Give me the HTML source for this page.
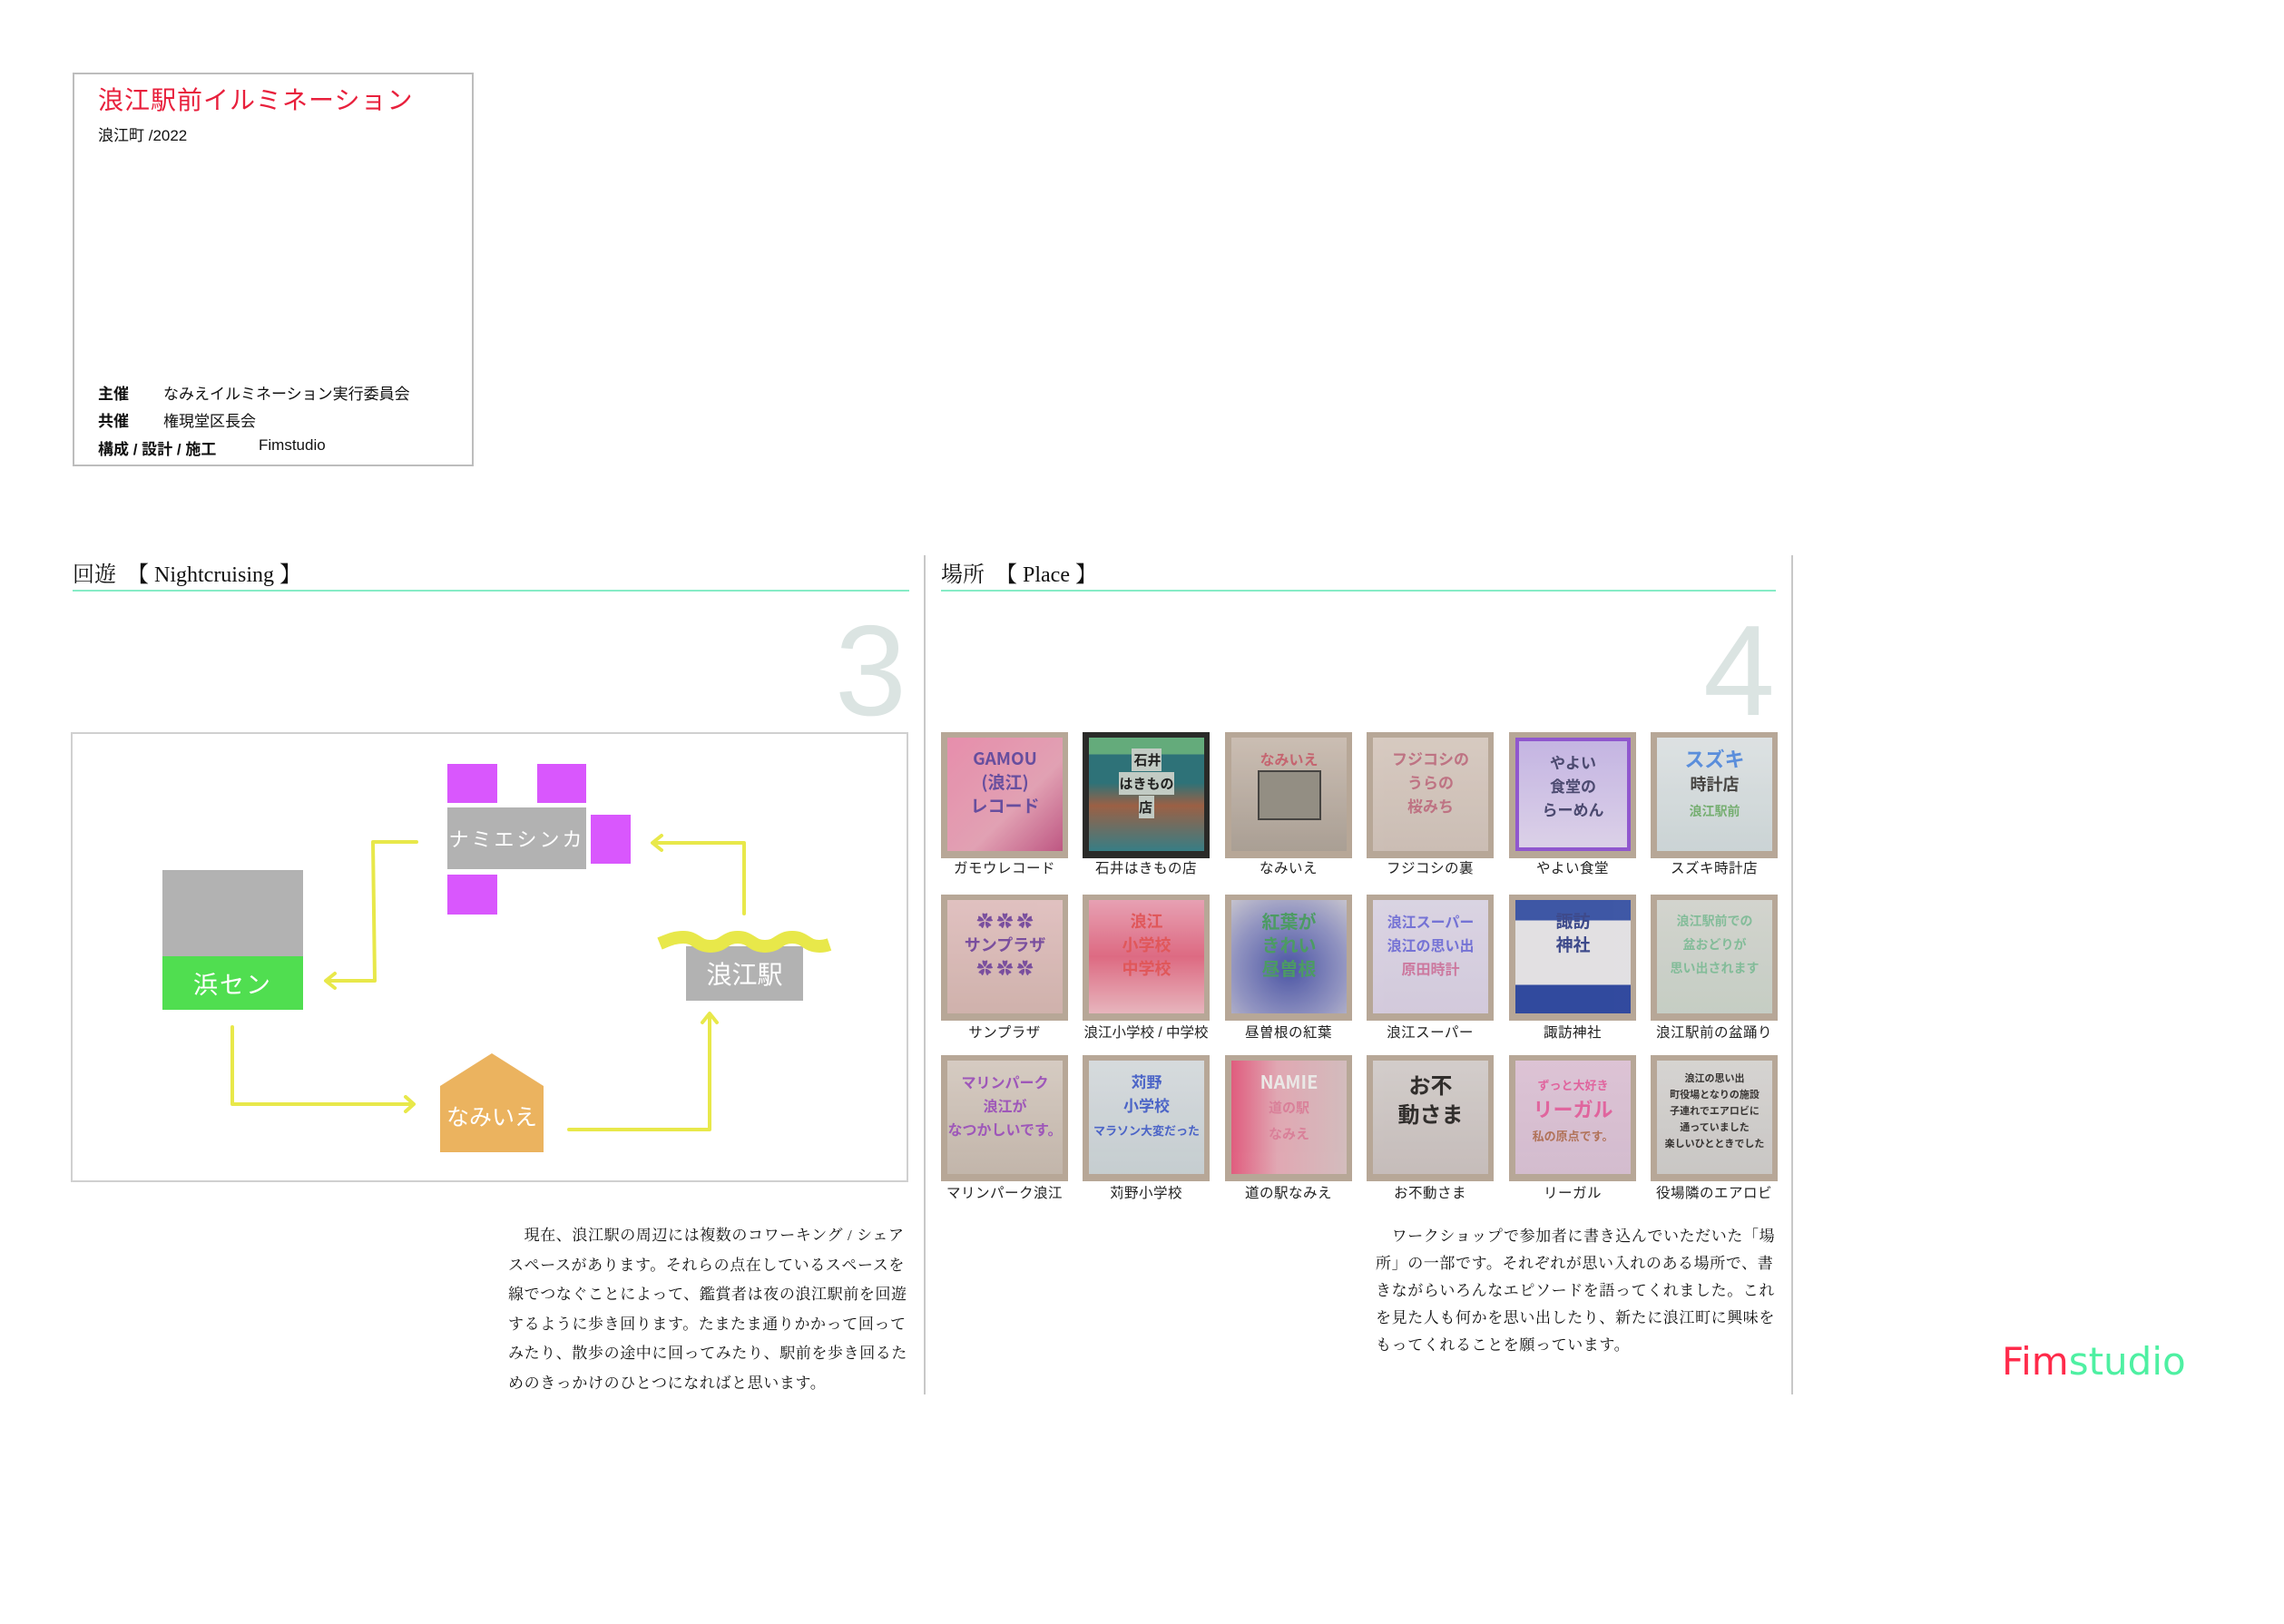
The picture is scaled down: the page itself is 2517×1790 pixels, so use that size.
<!DOCTYPE html>
<html><head><meta charset="utf-8">
<style>
*{margin:0;padding:0;box-sizing:border-box}
body{width:2517px;height:1790px;background:#fff;position:relative;overflow:hidden;font-family:"Liberation Sans","Noto Sans CJK JP",sans-serif;color:#111}
.a{position:absolute}
.serif{font-family:"Liberation Serif","Noto Serif CJK JP",serif}
.tile{position:absolute;width:140px;height:139px;background:#b7a797;overflow:hidden}
.tile .in{position:absolute;left:7px;top:6px;right:6px;bottom:8px;font-family:"Noto Sans CJK JP",sans-serif;font-size:19px;line-height:26px;text-align:center;padding-top:10px;font-weight:bold;opacity:.85}
.lab{position:absolute;width:156px;text-align:center;font-size:15.5px;color:#222;letter-spacing:0.5px}
.lbl{position:absolute;color:#fff;text-align:center;font-family:"Noto Sans CJK JP",sans-serif}
.para{white-space:nowrap;font-size:17px;letter-spacing:0.6px}
</style></head><body>

<!-- info box -->
<div class="a" style="left:80px;top:80px;width:442px;height:434px;border:2px solid #bdbdbd"></div>
<div class="a" style="left:108px;top:89px;font-size:28px;color:#e8203c;letter-spacing:1px;white-space:nowrap">浪江駅前イルミネーション</div>
<div class="a" style="left:108px;top:135px;font-size:17px;white-space:nowrap">浪江町 /2022</div>
<div class="a" style="left:108px;top:420px;font-size:17px;font-weight:bold;white-space:nowrap">主催</div>
<div class="a" style="left:180px;top:420px;font-size:17px;white-space:nowrap">なみえイルミネーション実行委員会</div>
<div class="a" style="left:108px;top:450px;font-size:17px;font-weight:bold;white-space:nowrap">共催</div>
<div class="a" style="left:180px;top:450px;font-size:17px;white-space:nowrap">権現堂区長会</div>
<div class="a" style="left:108px;top:481px;font-size:17px;font-weight:bold;white-space:nowrap">構成 / 設計 / 施工</div>
<div class="a" style="left:285px;top:481px;font-size:17px;white-space:nowrap">Fimstudio</div>

<!-- section headers -->
<div class="a serif" style="left:80px;top:613px;font-size:24px;white-space:nowrap">回遊　【 Nightcruising 】</div>
<div class="a" style="left:80px;top:650px;width:922px;height:2px;background:#86ecc6"></div>
<div class="a serif" style="left:1037px;top:613px;font-size:24px;white-space:nowrap">場所　【 Place 】</div>
<div class="a" style="left:1037px;top:650px;width:920px;height:2px;background:#86ecc6"></div>
<div class="a" style="left:1018px;top:612px;width:2px;height:925px;background:#c8c8c8"></div>
<div class="a" style="left:1974px;top:612px;width:2px;height:925px;background:#c8c8c8"></div>

<div class="a" style="left:920px;top:665px;font-size:142px;line-height:150px;color:#dbe4e2">3</div>
<div class="a" style="left:1877px;top:665px;font-size:142px;line-height:150px;color:#dbe4e2">4</div>

<!-- diagram -->
<div class="a" style="left:78px;top:807px;width:923px;height:496px;border:2px solid #d0d0d0"></div>
<div class="a" style="left:493px;top:842px;width:55px;height:43px;background:#d957fd"></div>
<div class="a" style="left:592px;top:842px;width:54px;height:43px;background:#d957fd"></div>
<div class="a" style="left:651px;top:898px;width:44px;height:54px;background:#d957fd"></div>
<div class="a" style="left:493px;top:964px;width:55px;height:44px;background:#d957fd"></div>
<div class="lbl" style="left:493px;top:890px;width:153px;height:68px;background:#b2b2b2;font-size:22px;line-height:68px;letter-spacing:3px">ナミエシンカ</div>

<div class="a" style="left:179px;top:959px;width:155px;height:95px;background:#b2b2b2"></div>
<div class="lbl" style="left:179px;top:1054px;width:155px;height:59px;background:#50de50;font-size:27px;line-height:59px;letter-spacing:2px">浜セン</div>

<div class="lbl" style="left:756px;top:1043px;width:129px;height:60px;background:#b2b2b2;font-size:28px;line-height:60px">浪江駅</div>

<svg class="a" style="left:0;top:0" width="2517" height="1790">
<path d="M727 1040 C737 1036 743 1033 753 1033 C768 1033 768 1043 783 1043 C798 1043 798 1033 813 1033 C828 1033 828 1043 843 1043 C858 1043 858 1033 873 1033 C888 1033 888 1043 903 1043 C909 1043 911 1042 914 1041" fill="none" stroke="#e8e84a" stroke-width="14"/>
<polygon points="485,1197 542,1161 599,1197 599,1270 485,1270" fill="#ebb35f"/>
<g fill="none" stroke="#e8e84a" stroke-width="4" stroke-linecap="round" stroke-linejoin="round">
<polyline points="459,928 411,928 413,1081 360,1081"/>
<polyline points="369,1073 359,1081 369,1089"/>
<polyline points="820,1007 820,929 720,929"/>
<polyline points="729,921 719,929 729,937"/>
<polyline points="256,1132 256,1217 455,1217"/>
<polyline points="447,1209 456,1217 447,1225"/>
<polyline points="627,1245 782,1245 782,1118"/>
<polyline points="774,1127 782,1117 790,1127"/>
</g>
</svg>
<div class="lbl" style="left:485px;top:1212px;width:114px;font-size:25px;line-height:36px">なみいえ</div>

<!-- tiles -->
<div class="tile" style="left:1037px;top:807px"><div class="in" style="background:linear-gradient(135deg,#f08ab0,#e9a0b8 60%,#c04a80);color:#5a3fa0">GAMOU<br>(浪江)<br>レコード</div></div>
<div class="tile" style="left:1193px;top:807px;background:#2a2a28"><div class="in" style="background:linear-gradient(180deg,#6fc28a 0 15%,#2f7f86 15% 40%,#b06a4a 60%,#3a8d96);color:#222"><span style="background:#dde8e0;padding:2px;font-size:15px;line-height:20px">石井<br>はきもの<br>店</span></div></div>
<div class="tile" style="left:1350px;top:807px"><div class="in" style="background:linear-gradient(180deg,#cfc2b8,#a89e94);color:#c85a6a;font-size:16px">なみいえ<br><span style="display:inline-block;width:70px;height:55px;border:2px solid #333;background:#8d8a80"></span></div></div>
<div class="tile" style="left:1506px;top:807px"><div class="in" style="background:linear-gradient(180deg,#ddd0c8,#cfc2ba);color:#c06a80;font-size:17px">フジコシの<br>うらの<br>桜みち</div></div>
<div class="tile" style="left:1663px;top:807px"><div class="in" style="background:linear-gradient(180deg,#c7b8f0,#e2d8f6);color:#3a3a6a;border:4px solid #8a4ad8;font-size:17px">やよい<br>食堂の<br>らーめん</div></div>
<div class="tile" style="left:1819px;top:807px"><div class="in" style="background:linear-gradient(180deg,#e4ecf0,#cfdce0);color:#4a8ae8;font-size:22px">スズキ<br><span style="color:#333;font-size:18px">時計店</span><br><span style="color:#6ab06a;font-size:14px">浪江駅前</span></div></div>

<div class="tile" style="left:1037px;top:986px"><div class="in" style="background:linear-gradient(180deg,#e8c6c8,#d4b4b0);color:#7040a0;font-size:18px">✿ ✿ ✿<br>サンプラザ<br>✿ ✿ ✿</div></div>
<div class="tile" style="left:1193px;top:986px"><div class="in" style="background:linear-gradient(180deg,#f0a0b8,#e4607f 50%,#f0b8c4);color:#e84a50;font-size:18px">浪江<br>小学校<br>中学校</div></div>
<div class="tile" style="left:1350px;top:986px"><div class="in" style="background:radial-gradient(circle at 50% 60%,#3a48a8,#8a90c8 60%,#c8c8d8);color:#3a9a5a;font-size:20px">紅葉が<br>きれい<br>昼曽根</div></div>
<div class="tile" style="left:1506px;top:986px"><div class="in" style="background:linear-gradient(180deg,#e0dcf0,#d8d0e8);color:#6a6ae0;font-size:16px">浪江スーパー<br>浪江の思い出<br><span style="color:#d070a0">原田時計</span></div></div>
<div class="tile" style="left:1663px;top:986px"><div class="in" style="background:linear-gradient(180deg,#2a4aa8 0 18%,#eaeaf0 18% 75%,#1a3aa0 75%);color:#2a3a8a;font-size:19px">諏訪<br>神社</div></div>
<div class="tile" style="left:1819px;top:986px"><div class="in" style="background:linear-gradient(180deg,#d8dcd8,#c8d4cc);color:#7ac09a;font-size:14px">浪江駅前での<br>盆おどりが<br>思い出されます</div></div>

<div class="tile" style="left:1037px;top:1163px"><div class="in" style="background:linear-gradient(180deg,#dcd2ca,#c4b8ae);color:#9a4ac0;font-size:16px">マリンパーク<br>浪江が<br>なつかしいです。</div></div>
<div class="tile" style="left:1193px;top:1163px"><div class="in" style="background:linear-gradient(180deg,#dce4ea,#c8d4da);color:#3a5ad0;font-size:17px">苅野<br>小学校<br><span style="font-size:13px">マラソン大変だった</span></div></div>
<div class="tile" style="left:1350px;top:1163px"><div class="in" style="background:linear-gradient(90deg,#e8507a,#e8a8b8 40%,#d8c0c4);color:#f4f4f4;font-size:20px">NAMIE<br><span style="color:#e07a9a;font-size:15px">道の駅<br>なみえ</span></div></div>
<div class="tile" style="left:1506px;top:1163px"><div class="in" style="background:linear-gradient(180deg,#d8d4d4,#c8c0c0);color:#1a1a1a;font-size:24px;line-height:32px">お不<br>動さま</div></div>
<div class="tile" style="left:1663px;top:1163px"><div class="in" style="background:linear-gradient(180deg,#e4c8e0,#d8c0d8);color:#e85aa0;font-size:22px"><span style="font-size:13px">ずっと大好き</span><br>リーガル<br><span style="font-size:13px;color:#b06a50">私の原点です。</span></div></div>
<div class="tile" style="left:1819px;top:1163px"><div class="in" style="background:linear-gradient(180deg,#dcdcdc,#cccccc);color:#222;font-size:11px;line-height:18px">浪江の思い出<br>町役場となりの施設<br>子連れでエアロビに<br>通っていました<br>楽しいひとときでした</div></div>

<!-- labels -->
<div class="lab" style="left:1029px;top:945px">ガモウレコード</div>
<div class="lab" style="left:1185px;top:945px">石井はきもの店</div>
<div class="lab" style="left:1342px;top:945px">なみいえ</div>
<div class="lab" style="left:1498px;top:945px">フジコシの裏</div>
<div class="lab" style="left:1655px;top:945px">やよい食堂</div>
<div class="lab" style="left:1811px;top:945px">スズキ時計店</div>
<div class="lab" style="left:1029px;top:1126px">サンプラザ</div>
<div class="lab" style="left:1185px;top:1126px;letter-spacing:0">浪江小学校 / 中学校</div>
<div class="lab" style="left:1342px;top:1126px">昼曽根の紅葉</div>
<div class="lab" style="left:1498px;top:1126px">浪江スーパー</div>
<div class="lab" style="left:1655px;top:1126px">諏訪神社</div>
<div class="lab" style="left:1811px;top:1126px">浪江駅前の盆踊り</div>
<div class="lab" style="left:1029px;top:1303px">マリンパーク浪江</div>
<div class="lab" style="left:1185px;top:1303px">苅野小学校</div>
<div class="lab" style="left:1342px;top:1303px">道の駅なみえ</div>
<div class="lab" style="left:1498px;top:1303px">お不動さま</div>
<div class="lab" style="left:1655px;top:1303px">リーガル</div>
<div class="lab" style="left:1811px;top:1303px">役場隣のエアロビ</div>

<!-- paragraphs -->
<div class="a serif para" style="left:560px;top:1346px;line-height:32.5px">　現在、浪江駅の周辺には複数のコワーキング / シェア<br>スペースがあります。それらの点在しているスペースを<br>線でつなぐことによって、鑑賞者は夜の浪江駅前を回遊<br>するように歩き回ります。たまたま通りかかって回って<br>みたり、散歩の途中に回ってみたり、駅前を歩き回るた<br>めのきっかけのひとつになればと思います。</div>
<div class="a serif para" style="left:1516px;top:1348px;line-height:30px">　ワークショップで参加者に書き込んでいただいた「場<br>所」の一部です。それぞれが思い入れのある場所で、書<br>きながらいろんなエピソードを語ってくれました。これ<br>を見た人も何かを思い出したり、新たに浪江町に興味を<br>もってくれることを願っています。</div>

<!-- logo -->
<div class="a" style="left:2206px;top:1476px;font-size:42px;line-height:50px;white-space:nowrap;font-family:'DejaVu Sans','Liberation Sans',sans-serif"><span style="color:#ff2a4a">Fim</span><span style="color:#4ef0a2">studio</span></div>
</body></html>
